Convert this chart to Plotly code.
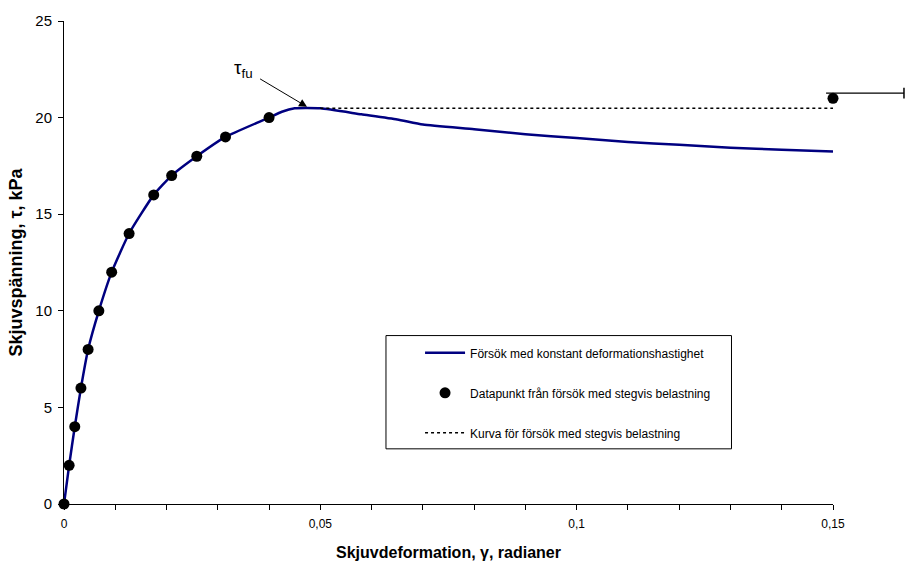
import plotly.graph_objects as go

# --- data ---
curve_x = [0, 0.001, 0.0021, 0.0033, 0.0047, 0.0068, 0.0093, 0.0127, 0.0175, 0.021, 0.0259,
           0.0315, 0.04, 0.0425, 0.045, 0.05, 0.058, 0.065, 0.07, 0.08, 0.09, 0.1, 0.11,
           0.12, 0.13, 0.14, 0.15]
curve_y = [0, 2, 4, 6, 8, 10, 12, 14, 16, 17, 18, 19, 20, 20.3, 20.48, 20.48, 20.17, 19.9,
           19.64, 19.4, 19.14, 18.94, 18.74, 18.59, 18.44, 18.34, 18.24]

point_x = [0, 0.001, 0.0021, 0.0033, 0.0047, 0.0068, 0.0093, 0.0127, 0.0175, 0.021, 0.0259,
           0.0315, 0.04, 0.15]
point_y = [0, 2, 4, 6, 8, 10, 12, 14, 16, 17, 18, 19, 20, 21]

step_x = [0.05, 0.15]
step_y = [20.48, 20.48]

x_tickvals = [0, 0.05, 0.1, 0.15]
x_ticktext = ["0", "0,05", "0,1", "0,15"]
y_tickvals = [0, 5, 10, 15, 20, 25]

names = ["Försök med konstant deformationshastighet",
         "Datapunkt från försök med stegvis belastning",
         "Kurva för försök med stegvis belastning"]

X_MAX, Y_MAX = 0.15, 25

fig = go.Figure()
fig.add_trace(go.Scatter(x=curve_x, y=curve_y, mode="lines", name=names[0],
                         line=dict(color="#000080", width=2.5, shape="spline", smoothing=0.5),
                         legendgroup="a"))
fig.add_trace(go.Scatter(x=point_x, y=point_y, mode="markers", name=names[1],
                         marker=dict(color="black", size=11), cliponaxis=False,
                         legendgroup="b"))
fig.add_trace(go.Scatter(x=step_x, y=step_y, mode="lines", name=names[2],
                         line=dict(color="black", width=1.5, dash="dot"),
                         legendgroup="c"))

# legend frame
fig.add_shape(type="rect", xref="paper", yref="paper", x0=0.4187, x1=0.868, y0=0.1142, y1=0.3487,
              line=dict(color="black", width=1), fillcolor="rgba(0,0,0,0)", layer="below")

# continuation marker to the right of the last step point
px = point_x[-1] / X_MAX
py = (point_y[-1] + 0.27) / Y_MAX
fig.add_shape(type="line", xref="paper", yref="paper", x0=px - 0.009, x1=1.0923, y0=py, y1=py,
              line=dict(color="black", width=1.2))
fig.add_shape(type="line", xref="paper", yref="paper", x0=1.0923, x1=1.0923, y0=py - 0.011, y1=py + 0.011,
              line=dict(color="black", width=1.5))

# tau_fu annotation with arrow
fig.add_annotation(x=0.0474, y=20.56, ax=0.0351, ay=22.5, axref="x", ayref="y",
                   text="τ<sub>fu</sub>", showarrow=True, arrowhead=2, arrowsize=1.6,
                   arrowwidth=1, arrowcolor="black", startstandoff=6,
                   font=dict(family="Liberation Sans, Arial", size=19, color="black"))

fig.update_layout(
    width=905, height=571,
    margin=dict(l=64, r=72, t=12, b=60),
    paper_bgcolor="white", plot_bgcolor="white",
    font=dict(family="Liberation Sans, Arial", color="black"),
    showlegend=True,
    legend=dict(x=0.463, y=0.343, xanchor="left", yanchor="top", bgcolor="rgba(0,0,0,0)",
                borderwidth=0, font=dict(size=12, color="black"), tracegroupgap=21,
                itemwidth=40),
    xaxis=dict(range=[0, X_MAX], tickvals=x_tickvals, ticktext=x_ticktext,
               showgrid=False, zeroline=False, showline=True, linecolor="black", linewidth=1,
               ticks="outside", ticklen=5, tickcolor="black", ticklabelstandoff=4,
               minor=dict(dtick=0.01, ticks="outside", ticklen=5, tickcolor="black", showgrid=False),
               tickfont=dict(family="Liberation Sans Narrow, Liberation Sans", size=12),
               title=dict(text="<b>Skjuvdeformation, γ, radianer</b>", standoff=16,
                          font=dict(size=16))),
    yaxis=dict(range=[0, Y_MAX], tickvals=y_tickvals,
               showgrid=False, zeroline=False, showline=True, linecolor="black", linewidth=1,
               ticks="outside", ticklen=5, tickcolor="black", ticklabelstandoff=3,
               tickfont=dict(size=15),
               title=dict(text="<b>Skjuvspänning, τ, kPa</b>", standoff=8,
                          font=dict(size=18))),
)

fig.write_html("out.html")
